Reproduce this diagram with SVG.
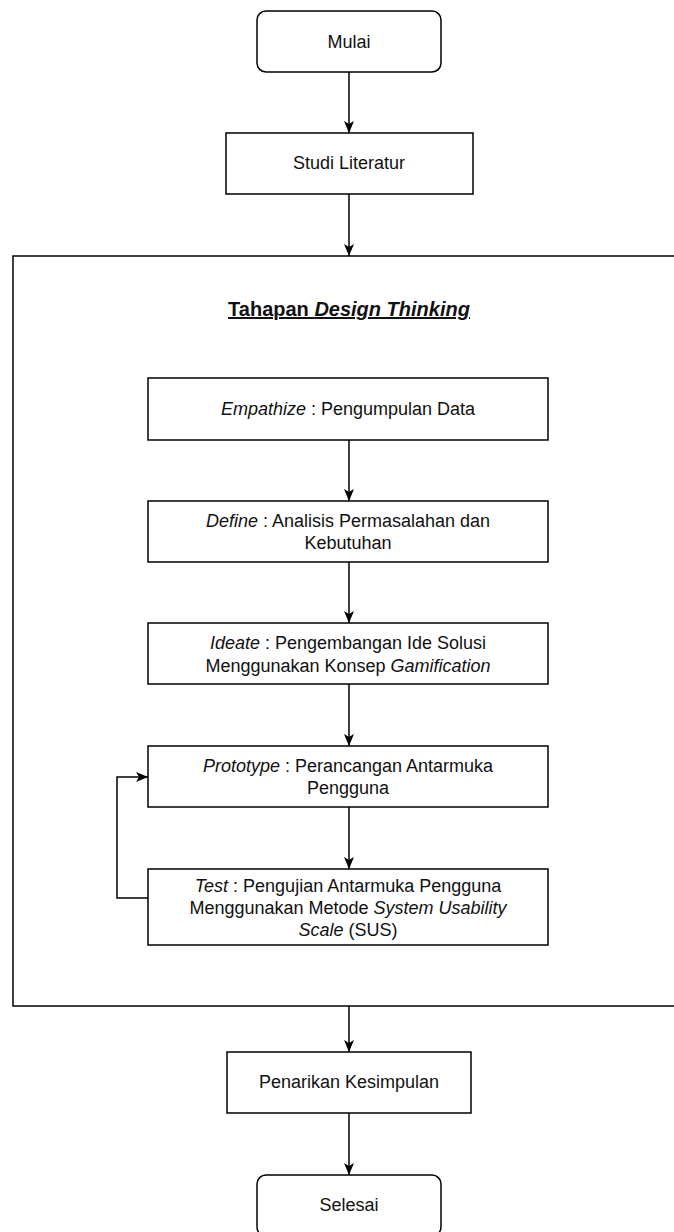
<svg xmlns="http://www.w3.org/2000/svg" width="674" height="1232" viewBox="0 0 674 1232">
<style>
.box{fill:#fff;stroke:#000;stroke-width:1.5}
.cont{fill:none;stroke:#000;stroke-width:1.5}
.t{font-family:"Liberation Sans",Arial,sans-serif;font-size:18px;fill:#111;text-anchor:middle}
.i{font-style:italic}
.title{font-family:"Liberation Sans",Arial,sans-serif;font-size:20px;font-weight:bold;fill:#111;text-anchor:middle;text-decoration:underline}
.c{fill:none;stroke:#000;stroke-width:1.5;marker-end:url(#ah)}
</style>
<defs>
<marker id="ah" viewBox="0 0 13 12" markerWidth="13" markerHeight="12" refX="12.5" refY="6" orient="auto" markerUnits="userSpaceOnUse">
<path d="M0.5,1 L12.5,6 L0.5,11 L3.5,6 Z" fill="#000"/>
</marker>
</defs>
<rect width="674" height="1232" fill="#fff"/>
<g id="container">
<rect class="cont" x="13" y="256" width="700" height="750"/>
<text class="title" x="349" y="316">Tahapan <tspan class="i">Design Thinking</tspan></text>
</g>
<g id="connectors">
<path class="c" d="M349,72 V133"/>
<path class="c" d="M349,194 V256"/>
<path class="c" d="M349,440 V501"/>
<path class="c" d="M349,562 V623"/>
<path class="c" d="M349,684 V746"/>
<path class="c" d="M349,807 V869"/>
<path class="c" d="M148,898 H117 V777 H148"/>
<path class="c" d="M349,1006 V1052"/>
<path class="c" d="M349,1113 V1175"/>
</g>
<g id="mulai">
<rect class="box" x="257" y="11" width="184" height="61" rx="9"/>
<text class="t" x="349" y="48">Mulai</text>
</g>
<g id="studi">
<rect class="box" x="226" y="133" width="247" height="61"/>
<text class="t" x="349" y="169">Studi Literatur</text>
</g>
<g id="empathize">
<rect class="box" x="148" y="378" width="400" height="62"/>
<text class="t" x="348" y="415"><tspan class="i">Empathize</tspan> : Pengumpulan Data</text>
</g>
<g id="define">
<rect class="box" x="148" y="501" width="400" height="61"/>
<text class="t" x="348" y="527"><tspan class="i">Define</tspan> : Analisis Permasalahan dan</text>
<text class="t" x="348" y="549">Kebutuhan</text>
</g>
<g id="ideate">
<rect class="box" x="148" y="623" width="400" height="61"/>
<text class="t" x="348" y="649"><tspan class="i">Ideate</tspan> : Pengembangan Ide Solusi</text>
<text class="t" x="348" y="672">Menggunakan Konsep <tspan class="i">Gamification</tspan></text>
</g>
<g id="prototype">
<rect class="box" x="148" y="746" width="400" height="61"/>
<text class="t" x="348" y="772"><tspan class="i">Prototype</tspan> : Perancangan Antarmuka</text>
<text class="t" x="348" y="794">Pengguna</text>
</g>
<g id="test">
<rect class="box" x="148" y="869" width="400" height="76"/>
<text class="t" x="348" y="892"><tspan class="i">Test</tspan> : Pengujian Antarmuka Pengguna</text>
<text class="t" x="348" y="914">Menggunakan Metode <tspan class="i">System Usability</tspan></text>
<text class="t" x="348" y="936"><tspan class="i">Scale</tspan> (SUS)</text>
</g>
<g id="penarikan">
<rect class="box" x="227" y="1052" width="244" height="61"/>
<text class="t" x="349" y="1088">Penarikan Kesimpulan</text>
</g>
<g id="selesai">
<rect class="box" x="257" y="1175" width="184" height="61" rx="9"/>
<text class="t" x="349" y="1211">Selesai</text>
</g>
</svg>
